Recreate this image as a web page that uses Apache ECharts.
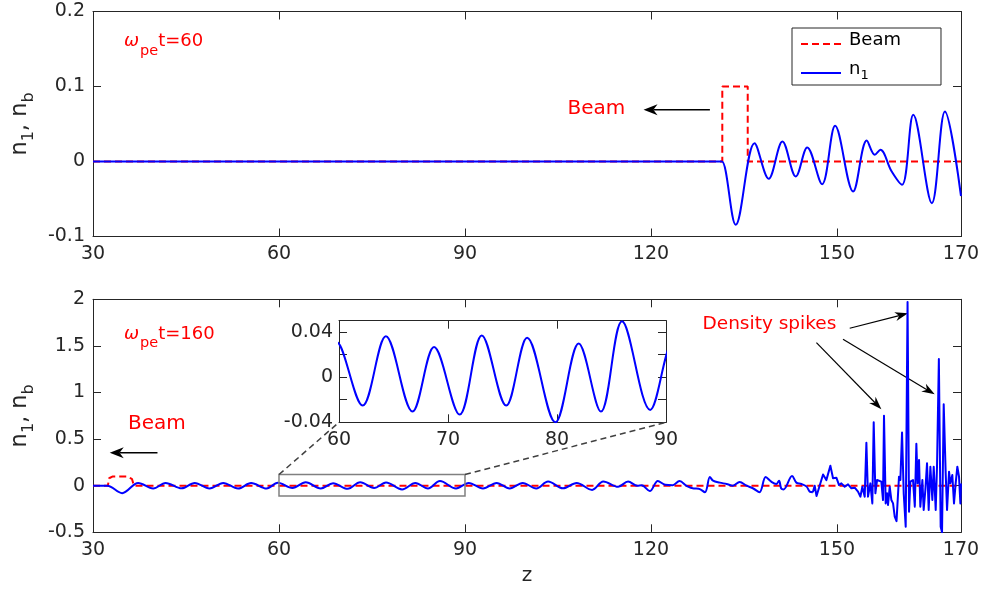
<!DOCTYPE html>
<html>
<head>
<meta charset="utf-8">
<script src="https://cdn.jsdelivr.net/npm/echarts@6/dist/echarts.min.js"></script>
<style>
  html, body { margin: 0; padding: 0; background: #fff; }
  #chart { width: 983px; height: 594px; }
</style>
</head>
<body>
<div id="chart"></div>
<script>
// ---------- data ----------
// upper panel, omega_pe t = 60
const zBeamTop = [30, 131.5, 131.5, 135.6, 135.6, 170];
const beamTop  = [0, 0, 0.1, 0.1, 0, 0];
const zN1Top = [30, 131.0, 131.45, 133.66, 136.7, 138.98, 141.2, 143.35, 145.2, 147.6, 149.7,
                152.6, 154.8, 156.1, 157.0, 158.8, 160.5, 162.3, 165.3, 167.4, 170];
const n1Top  = [0, 0, 0, -0.0844, 0.0245, -0.023, 0.0267, -0.02, 0.0187, -0.0302, 0.0476,
                -0.04, 0.028, 0.009, 0.0156, -0.013, -0.031, 0.0623, -0.0555, 0.0667, -0.046];

// lower panel, omega_pe t = 160
const zBeamBot = [30, 32.4, 32.6, 33.2, 35.6, 36.3, 36.6, 170];
const beamBot  = [0, 0, 0.08, 0.1, 0.1, 0.07, 0, 0];

// wake oscillation behind the beam
const zWave = [30, 32.3, 34.7, 37.3, 39.7, 41.7, 44.3, 46.4, 48.8, 51.0, 53.4, 55.5, 58.0,
  59.8, 62.17, 64.3, 66.74, 68.72, 71.07, 73.1, 75.34, 77.26, 79.85,
  81.99, 84.03, 85.96, 88.55, 90.6, 92.9, 95.1, 97.2, 99.3, 101.5,
  103.4, 105.8, 108.0, 110.5, 112.3, 114.7, 116.3, 117.8, 118.5, 119.8,
  121.1, 122.3, 123.5, 124.6, 125.8, 126.9, 127.7, 128.7, 129.5, 130.0,
  131.1, 132.2, 133.2, 134.3, 135.4, 136.5, 137.5, 138.5, 139.4, 140.2,
  140.65, 141.0, 141.4, 142.75, 143.45, 144.25, 145.1, 145.6, 146.1];
const n1Wave = [0, 0, -0.08, 0.03, -0.03, 0.03, -0.028, 0.03, -0.03, 0.03, -0.03, 0.028, -0.03,
  0.031, -0.0252, 0.0362, -0.0305, 0.0267, -0.0332, 0.037, -0.0252, 0.035, -0.04,
  0.0297, -0.0305, 0.0495, -0.029, 0.03, -0.03, 0.03, -0.03, 0.03, -0.03,
  0.045, -0.028, 0.03, -0.045, 0.045, -0.012, 0.045, 0.0, 0.004, -0.058,
  0.05, 0.01, 0.006, 0.05, -0.004, -0.03, -0.032, -0.07, 0.093, 0.054,
  0.033, 0.018, 0.0, 0.04, 0.0, -0.03, -0.07, 0.093, 0.043, 0.018,
  0.054, -0.03, -0.04, 0.104, 0.033, 0.018, -0.01, -0.064, -0.07];

// broken-up region with density spikes
const zSpike = [146.1, 146.4, 146.7, 147.2, 147.75, 148.28, 148.93, 149.36, 149.9, 150.33,
  150.7, 151.24, 151.78, 152.32, 152.86, 153.39, 153.77, 154.09, 154.47, 154.74,
  155.0, 155.38, 155.7, 155.92, 156.19, 156.46, 156.78, 157.15, 157.42, 157.58,
  157.85, 158.07, 158.23, 158.5, 158.77, 159.04, 159.31, 159.6, 160.0, 160.22,
  160.49, 160.76, 161.08, 161.38, 161.62, 161.83, 162.26, 162.55, 162.8, 163.0,
  163.23, 163.44, 163.77, 163.98, 164.25, 164.52, 164.79, 165.06, 165.38, 165.6,
  165.92, 166.13, 166.43, 166.72, 166.94, 167.21, 167.53, 167.75, 168.07, 168.28,
  168.6, 168.87, 169.14, 169.41, 169.68, 169.9, 170];
const n1Spike = [-0.07, 0.0, -0.11, 0.0, 0.12, 0.06, 0.215, 0.08, 0.086, 0.007,
  0.025, -0.011, 0.014, -0.028, -0.021, -0.064, -0.118, -0.011, -0.118, 0.46,
  -0.118, 0.025, -0.19, 0.68, -0.082, 0.061, 0.079, 0.043, -0.154, 0.75,
  -0.19, -0.082, -0.207, -0.011, -0.154, -0.19, -0.332, -0.38, 0.097, 0.061,
  0.57, -0.082, -0.44, 1.97, -0.279, 0.043, 0.061, -0.225, 0.45, 0.025,
  0.276, -0.225, 0.061, -0.261, -0.046, 0.24, -0.261, 0.204, -0.154, 0.204,
  -0.261, 0.204, 1.36, -0.44, -0.5, 0.873, 0.133, -0.261, 0.15, 0.025,
  0.115, -0.19, 0.025, 0.204, 0.097, -0.19, 0.025];

// axis ranges and tick labels
const zRange    = { min: 30, max: 170, interval: 30 };
const topRange  = { min: -0.1, max: 0.2, interval: 0.1 };
const botRange  = { min: -0.5, max: 2, interval: 0.5 };
const insetX    = { min: 60, max: 90, interval: 10 };
const insetY    = { min: -0.04, max: 0.05, interval: 0.02 };
const insetYLabels = ['-0.04', '0', '0.04'];
const zoomBox   = { z0: 60, z1: 90, v0: -0.11, v1: 0.12 };

// ---------- styling ----------
const FONT = 'DejaVu Sans';
const INK = '#262626';
const RED = '#ff0000';
const BLUE = '#0000ff';

const pairs = (xs, ys) => xs.map((x, i) => [x, ys[i]]);

function axis(kind, gridIndex, r, position, showLabels, extra) {
  return Object.assign({
    type: 'value', gridIndex, position,
    min: r.min, max: r.max, interval: r.interval,
    axisLine: { show: true, onZero: false, lineStyle: { color: INK, width: 1 } },
    axisTick: { show: true, inside: true, length: 8, lineStyle: { color: INK, width: 1 } },
    splitLine: { show: false },
    axisLabel: {
      show: showLabels, color: INK, fontSize: 19, fontFamily: FONT, margin: 8,
      showMinLabel: true, showMaxLabel: true
    }
  }, extra || {});
}

const subRich = (big, small, drop) => ({
  n: { fontSize: big, lineHeight: big, fontFamily: FONT, color: INK, verticalAlign: 'bottom', padding: [0, 0, drop, 0] },
  s: { fontSize: small, lineHeight: small, fontFamily: FONT, color: INK, verticalAlign: 'bottom' }
});

const yName = {
  name: '{n|n}{s|1}{n|, n}{s|b}',
  nameLocation: 'middle',
  nameGap: 50,
  nameTextStyle: { rich: subRich(22.5, 16, 5) }
};

const lineCommon = { type: 'line', symbol: 'none', showSymbol: false, animation: false, silent: true };

const option = {
  animation: false,
  backgroundColor: '#fff',
  grid: [
    { left: 93, top: 11.5, width: 868, height: 225 },
    { left: 93, top: 299.3, width: 868, height: 233 },
    { left: 339, top: 320.7, width: 327, height: 101.6, show: true, backgroundColor: '#fff', borderWidth: 0 }
  ],
  xAxis: [
    axis('x', 0, zRange, 'bottom', true),
    axis('x', 0, zRange, 'top', false),
    axis('x', 1, zRange, 'bottom', true, {
      name: 'z', nameLocation: 'middle', nameGap: 33,
      nameTextStyle: { fontSize: 20, fontFamily: FONT, color: INK }
    }),
    axis('x', 1, zRange, 'top', false),
    axis('x', 2, insetX, 'bottom', true),
    axis('x', 2, insetX, 'top', false)
  ],
  yAxis: [
    axis('y', 0, topRange, 'left', true, yName),
    axis('y', 0, topRange, 'right', false),
    axis('y', 1, botRange, 'left', true, yName),
    axis('y', 1, botRange, 'right', false),
    axis('y', 2, insetY, 'left', true, {
      axisLabel: {
        show: true, color: INK, fontSize: 19, fontFamily: FONT, margin: 6,
        showMinLabel: true, showMaxLabel: true,
        formatter: v => {
          const hit = insetYLabels.find(s => Math.abs(parseFloat(s) - v) < 1e-9);
          return hit === undefined ? '' : hit;
        }
      }
    }),
    axis('y', 2, insetY, 'right', false)
  ],
  legend: {
    data: ['Beam', 'n1'],
    left: 792, top: 28,
    orient: 'vertical',
    backgroundColor: '#fff',
    borderColor: INK, borderWidth: 1,
    padding: [3, 40, 3, 8],
    itemWidth: 40, itemHeight: 20, itemGap: 7,
    itemStyle: { opacity: 0 },
    selectedMode: false,
    formatter: name => name === 'n1' ? '{n|n}{s|1}' : '{n|' + name + '}',
    textStyle: {
      color: '#000', fontSize: 18, fontFamily: FONT, padding: [0, 0, 0, 3],
      rich: {
        n: { fontSize: 18, lineHeight: 18, fontFamily: FONT, color: '#000', verticalAlign: 'bottom', padding: [0, 0, 4, 0] },
        s: { fontSize: 13, lineHeight: 13, fontFamily: FONT, color: '#000', verticalAlign: 'bottom' }
      }
    }
  },
  series: [
    Object.assign({}, lineCommon, {
      name: 'Beam', xAxisIndex: 0, yAxisIndex: 0,
      data: pairs(zBeamTop, beamTop),
      lineStyle: { color: RED, width: 2, type: [7, 4] }, itemStyle: { color: RED }
    }),
    Object.assign({}, lineCommon, {
      name: 'n1', xAxisIndex: 0, yAxisIndex: 0, smooth: 0.35,
      data: pairs(zN1Top, n1Top),
      lineStyle: { color: BLUE, width: 2 }, itemStyle: { color: BLUE }
    }),
    Object.assign({}, lineCommon, {
      name: 'Beam', xAxisIndex: 2, yAxisIndex: 2,
      data: pairs(zBeamBot, beamBot),
      lineStyle: { color: RED, width: 2, type: [7, 4] }, itemStyle: { color: RED }
    }),
    Object.assign({}, lineCommon, {
      name: 'n1', xAxisIndex: 2, yAxisIndex: 2, smooth: 0.35,
      data: pairs(zWave, n1Wave),
      lineStyle: { color: BLUE, width: 2 }, itemStyle: { color: BLUE }
    }),
    Object.assign({}, lineCommon, {
      name: 'n1', xAxisIndex: 2, yAxisIndex: 2,
      data: pairs(zSpike, n1Spike),
      lineStyle: { color: BLUE, width: 2, join: 'round' }, itemStyle: { color: BLUE }
    }),
    Object.assign({}, lineCommon, {
      name: 'n1', xAxisIndex: 4, yAxisIndex: 4, smooth: 0.35, clip: true,
      data: pairs(zWave, n1Wave),
      lineStyle: { color: BLUE, width: 2 }, itemStyle: { color: BLUE }
    })
  ]
};

const chart = echarts.init(document.getElementById('chart'), null, { renderer: 'canvas' });
chart.setOption(option);

// ---------- annotations placed in data coordinates ----------
const toPx = (seriesIndex, p) => chart.convertToPixel({ seriesIndex }, p);
const TOP = 1, BOT = 3, INS = 5;

function arrow(si, from, to, lw, len, half) {
  const p0 = toPx(si, from), p1 = toPx(si, to);
  const dx = p1[0] - p0[0], dy = p1[1] - p0[1];
  const L = Math.hypot(dx, dy), ux = dx / L, uy = dy / L, nx = -uy, ny = ux;
  const notch = len * 0.3;
  const bx = p1[0] - ux * len, by = p1[1] - uy * len;
  const kx = p1[0] - ux * (len - notch), ky = p1[1] - uy * (len - notch);
  return [
    { type: 'line', silent: true, shape: { x1: p0[0], y1: p0[1], x2: kx, y2: ky },
      style: { stroke: '#000', lineWidth: lw } },
    { type: 'polygon', silent: true,
      shape: { points: [[p1[0], p1[1]], [bx + nx * half, by + ny * half], [kx, ky], [bx - nx * half, by - ny * half]] },
      style: { fill: '#000' } }
  ];
}

function label(si, at, text, size, align) {
  const p = toPx(si, at);
  return { type: 'text', silent: true, x: p[0], y: p[1],
    style: { text, fill: RED, font: size + 'px "' + FONT + '"', align: align || 'center', verticalAlign: 'middle' } };
}

function timeLabel(si, at, value) {
  const p = toPx(si, at);
  return { type: 'text', silent: true, x: p[0], y: p[1],
    style: {
      text: '{w|ω}{s|pe}{m|t=' + value + '}',
      align: 'left', verticalAlign: 'middle',
      rich: {
        w: { fontSize: 18, lineHeight: 18, fontFamily: FONT, fontStyle: 'italic', fill: RED, color: RED, verticalAlign: 'bottom', padding: [0, 1, 8, 0] },
        s: { fontSize: 14.5, lineHeight: 14.5, fontFamily: FONT, fill: RED, color: RED, verticalAlign: 'bottom' },
        m: { fontSize: 18, lineHeight: 18, fontFamily: FONT, fill: RED, color: RED, verticalAlign: 'bottom', padding: [0, 0, 8, 0] }
      }
    } };
}

const b0 = toPx(BOT, [zoomBox.z0, zoomBox.v1]);
const b1 = toPx(BOT, [zoomBox.z1, zoomBox.v0]);
const iL = toPx(INS, [insetX.min, insetY.min]);
const iR = toPx(INS, [insetX.max, insetY.min]);
const bR = toPx(BOT, [zoomBox.z1, zoomBox.v1]);

const graphics = [
  timeLabel(TOP, [35, 0.1496], 60),
  timeLabel(BOT, [35, 1.54], 160),
  label(TOP, [111.2, 0.07], 'Beam', 20),
  label(BOT, [40.3, 0.66], 'Beam', 20),
  label(BOT, [139.1, 1.735], 'Density spikes', 18.5),
  ...arrow(TOP, [129.5, 0.069], [118.8, 0.069], 1.6, 14, 5.5),
  ...arrow(BOT, [40.4, 0.354], [32.7, 0.354], 1.6, 14, 5.5),
  ...arrow(BOT, [152.05, 1.689], [161.45, 1.849], 1.2, 13, 4.5),
  ...arrow(BOT, [146.68, 1.535], [157.16, 0.82], 1.2, 13, 4.5),
  ...arrow(BOT, [150.97, 1.572], [165.76, 0.98], 1.2, 13, 4.5),
  { type: 'rect', silent: true, z: 10,
    shape: { x: b0[0], y: b0[1], width: b1[0] - b0[0], height: b1[1] - b0[1] },
    style: { fill: 'none', stroke: '#808080', lineWidth: 1.5 } },
  { type: 'line', silent: true, z: 10, shape: { x1: b0[0], y1: b0[1], x2: iL[0], y2: iL[1] },
    style: { stroke: '#404040', lineWidth: 1.5, lineDash: [6, 4] } },
  { type: 'line', silent: true, z: 10, shape: { x1: bR[0], y1: bR[1], x2: iR[0], y2: iR[1] },
    style: { stroke: '#404040', lineWidth: 1.5, lineDash: [6, 4] } }
];

chart.setOption({ graphic: graphics });
</script>
</body>
</html>
